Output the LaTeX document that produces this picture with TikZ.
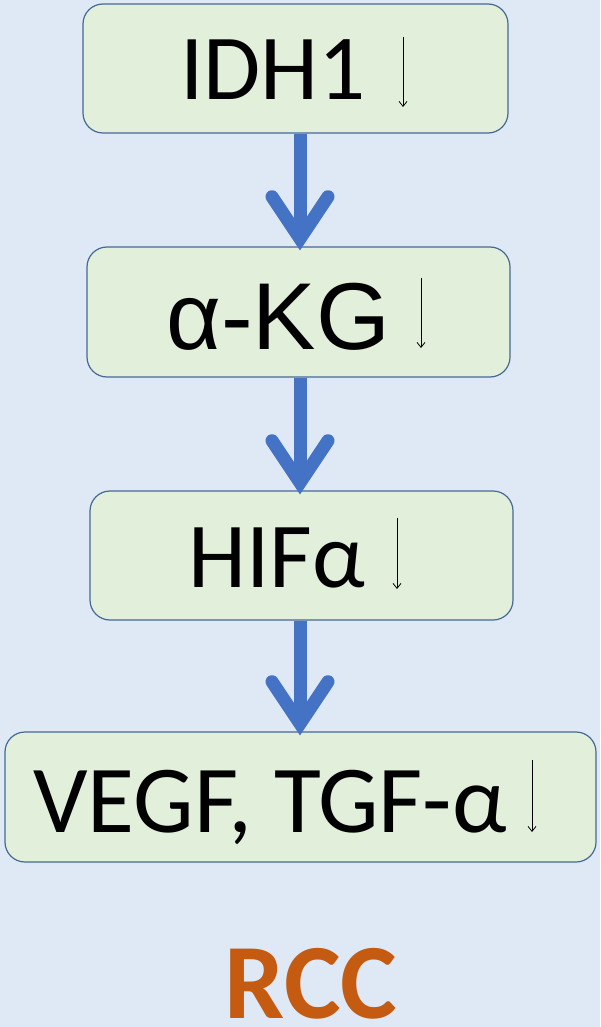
\documentclass[tikz,border=0pt]{standalone}
\usepackage{fontspec}
\setmainfont{Carlito}
\newfontfamily\arialf{Liberation Sans}
\usetikzlibrary{arrows.meta}
\definecolor{bgcol}{RGB}{222,233,245}
\definecolor{boxfill}{RGB}{226,239,218}
\definecolor{boxline}{RGB}{70,104,150}
\definecolor{arrblue}{RGB}{68,114,196}
\definecolor{rccorange}{RGB}{197,90,17}
\tikzset{
  stepbox/.style={draw=boxline, fill=boxfill, line width=1.2pt, rounded corners=20pt, inner sep=0pt},
  lbl/.style={anchor=base west, inner sep=0pt, font=\fontsize{93}{93}\selectfont},
  flow/.style={draw=arrblue, line width=13pt, -{Straight Barb[length=42pt,width=56pt,line cap=round,line join=miter]}},
  thin/.style={draw=black, line width=0.8pt, -{Straight Barb[length=5pt,width=8pt]}}
}
\begin{document}
\begin{tikzpicture}[x=1pt,y=-1pt]
\useasboundingbox (0,0) rectangle (600,1027);
\fill[bgcol] (0,0) rectangle (600,1027);
\coordinate (ax) at (300,0);
% boxes
\node[stepbox, minimum width=425pt, minimum height=129pt] (b1) at (295.5,68.5) {};
\node[stepbox, minimum width=423pt, minimum height=130pt] (b2) at (298.5,312) {};
\node[stepbox, minimum width=423pt, minimum height=129pt] (b3) at (301.5,555.5) {};
\node[stepbox, minimum width=591pt, minimum height=130pt] (b4) at (300.5,797) {};
% labels
\node[lbl] (t1) at (180,100) {IDH1};
\node[lbl, font=\arialf\fontsize{95}{95}\selectfont] (t2) at (166,349) {α-KG};
\node[lbl] (t3) at (188,587) {HIFα};
\node[lbl, font=\fontsize{96}{96}\selectfont] (t4) at (33,832) {VEGF, TGF-α};
% small down arrows
\coordinate (d1a) at (403,37); \coordinate (d1b) at (403,107);
\coordinate (d2a) at (421,278); \coordinate (d2b) at (421,348);
\coordinate (d3a) at (397,518); \coordinate (d3b) at (397,589);
\coordinate (d4a) at (532,760); \coordinate (d4b) at (532,832);
\draw[thin] (d1a) -- (d1b);
\draw[thin] (d2a) -- (d2b);
\draw[thin] (d3a) -- (d3b);
\draw[thin] (d4a) -- (d4b);
% flow arrows
\draw[flow] (b1.south -| ax) -- ([yshift=-4pt]b2.north -| ax);
\draw[flow] (b2.south -| ax) -- ([yshift=-4pt]b3.north -| ax);
\draw[flow] (b3.south -| ax) -- ([yshift=-4pt]b4.north -| ax);
% RCC
\node[anchor=base, inner sep=0pt, text=rccorange, font=\bfseries\fontsize{107}{107}\selectfont] (rcc) at (311,1018) {RCC};
\end{tikzpicture}
\end{document}
